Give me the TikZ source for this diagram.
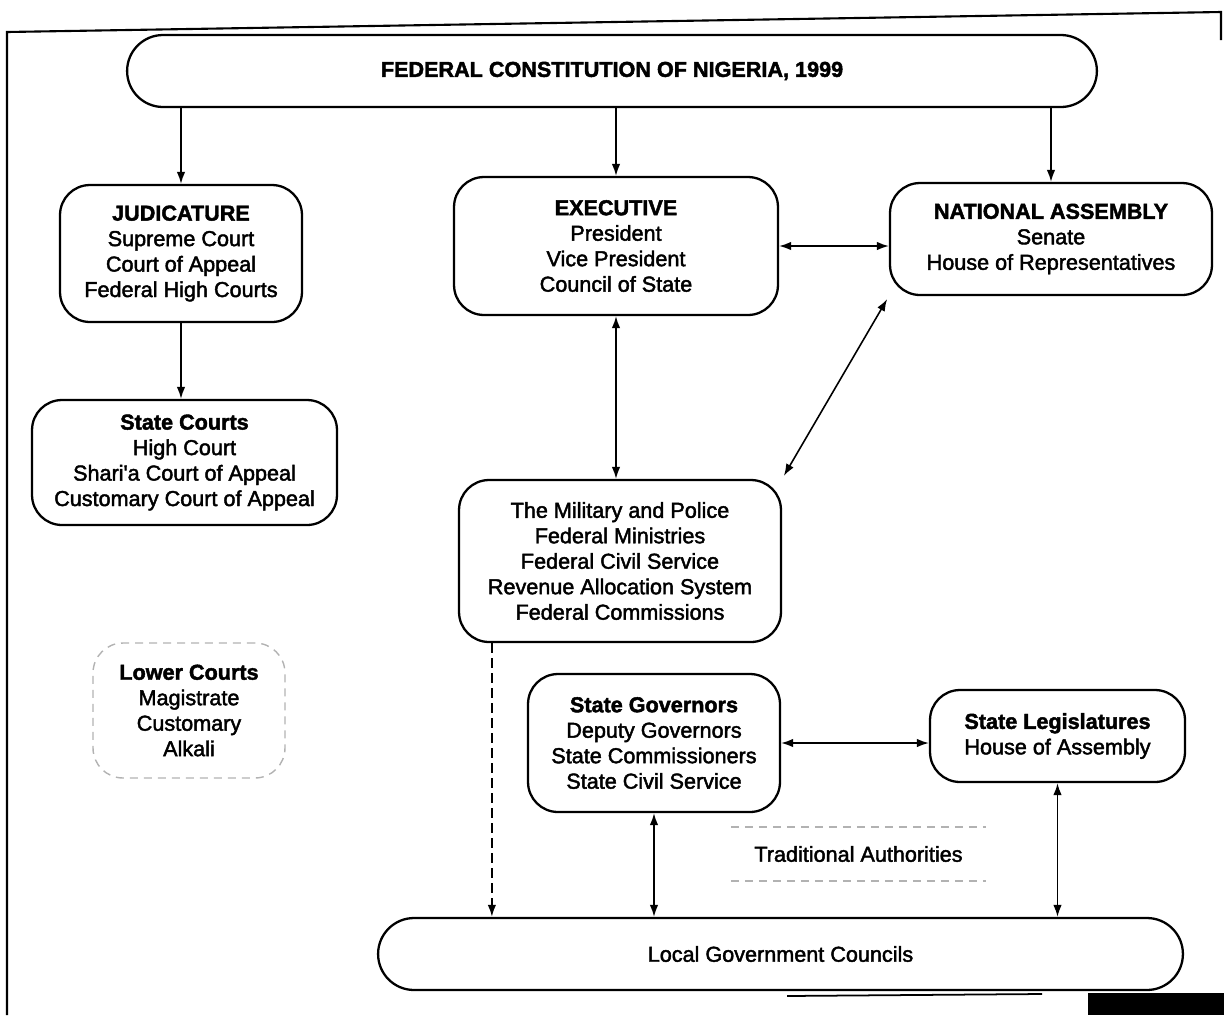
\documentclass[tikz,border=0pt]{standalone}
\usepackage{fontspec}
\setmainfont{Liberation Sans}
\newfontfamily\printfont{Liberation Sans}[FakeBold=2]
\usetikzlibrary{arrows.meta}

\tikzset{
  branch/.style={draw,line width=1.3pt,rounded corners=0.6cm,align=center,
    font=\printfont\fontsize{12.3}{14.5}\selectfont},
  pill/.style={branch,rounded corners=0.72cm,minimum height=1.44cm},
  lowbox/.style={branch,draw=gray!60,line width=0.8pt,dash pattern=on 0.16cm off 0.12cm},
  link/.style={line width=0.9pt,<->},
}

\begin{document}
\begin{tikzpicture}[x=0.02cm,y=-0.02cm,>={Latex[length=2.4mm,width=1.7mm]}]
\useasboundingbox (0,0) rectangle (1224,1015);
\draw[line width=1.2pt] (7,1015) -- (7,32) -- (1221,12) -- (1221,40);

\node[pill,minimum width=19.4cm] (fed) at (612,71) {\textbf{FEDERAL CONSTITUTION OF NIGERIA, 1999}};
\node[branch,minimum width=4.84cm,minimum height=2.74cm] (jud) at (181,253.5)
  {\textbf{JUDICATURE}\\Supreme Court\\Court of Appeal\\Federal High Courts};
\node[branch,minimum width=6.48cm,minimum height=2.76cm] (exec) at (616,246)
  {\textbf{EXECUTIVE}\\President\\Vice President\\Council of State};
\node[branch,minimum width=6.44cm,minimum height=2.24cm] (na) at (1051,239)
  {\textbf{NATIONAL ASSEMBLY}\\Senate\\House of Representatives};
\node[branch,minimum width=6.1cm,minimum height=2.5cm] (sc) at (184.5,462.5)
  {\textbf{State Courts}\\High Court\\Shari'a Court of Appeal\\Customary Court of Appeal};
\node[branch,minimum width=6.44cm,minimum height=3.24cm] (mil) at (620,561)
  {The Military and Police\\Federal Ministries\\Federal Civil Service\\Revenue Allocation System\\Federal Commissions};
\node[lowbox,minimum width=3.84cm,minimum height=2.7cm] (low) at (189,710.5)
  {\textbf{Lower Courts}\\Magistrate\\Customary\\Alkali};
\node[branch,minimum width=5.04cm,minimum height=2.76cm] (sg) at (654,743)
  {\textbf{State Governors}\\Deputy Governors\\State Commissioners\\State Civil Service};
\node[branch,minimum width=5.1cm,minimum height=1.84cm] (sl) at (1057.5,736)
  {\textbf{State Legislatures}\\House of Assembly};
\node[branch,draw=none,minimum width=5.06cm,minimum height=1.04cm] (trad) at (858.5,854)
  {Traditional Authorities};
\draw[gray!60,line width=0.8pt,dash pattern=on 0.16cm off 0.12cm] (trad.north west) -- (trad.north east);
\draw[gray!60,line width=0.8pt,dash pattern=on 0.16cm off 0.12cm] (trad.south west) -- (trad.south east);
\node[pill,minimum width=16.1cm] (lgc) at (780.5,954) {Local Government Councils};

\draw[->,line width=0.9pt] (jud |- fed.south) -- (jud.north);
\draw[->,line width=0.9pt] (exec |- fed.south) -- (exec.north);
\draw[->,line width=0.9pt] (na |- fed.south) -- (na.north);
\draw[->,line width=0.9pt] (jud.south) -- (jud.south |- sc.north);
\draw[link] (exec.east) -- (exec.east -| na.west);
\draw[link] (exec.south) -- (exec.south |- mil.north);
\draw[link,shorten <=2pt,shorten >=2pt] (na.south west) -- (mil.north east);
\path (mil.south west) ++(34,0) coordinate (milout);
\draw[->,line width=1.1pt,dash pattern=on 0.2cm off 0.1cm] (milout) -- (milout |- lgc.north);
\draw[link] (sg.east) -- (sg.east -| sl.west);
\draw[link] (sg.south) -- (sg.south |- lgc.north);
\draw[link] (sl.south) -- (sl.south |- lgc.north);

\draw[line width=1pt] (787,996) -- (1042,994);
\fill (1088,993) rectangle (1224,1015);
\end{tikzpicture}
\end{document}
